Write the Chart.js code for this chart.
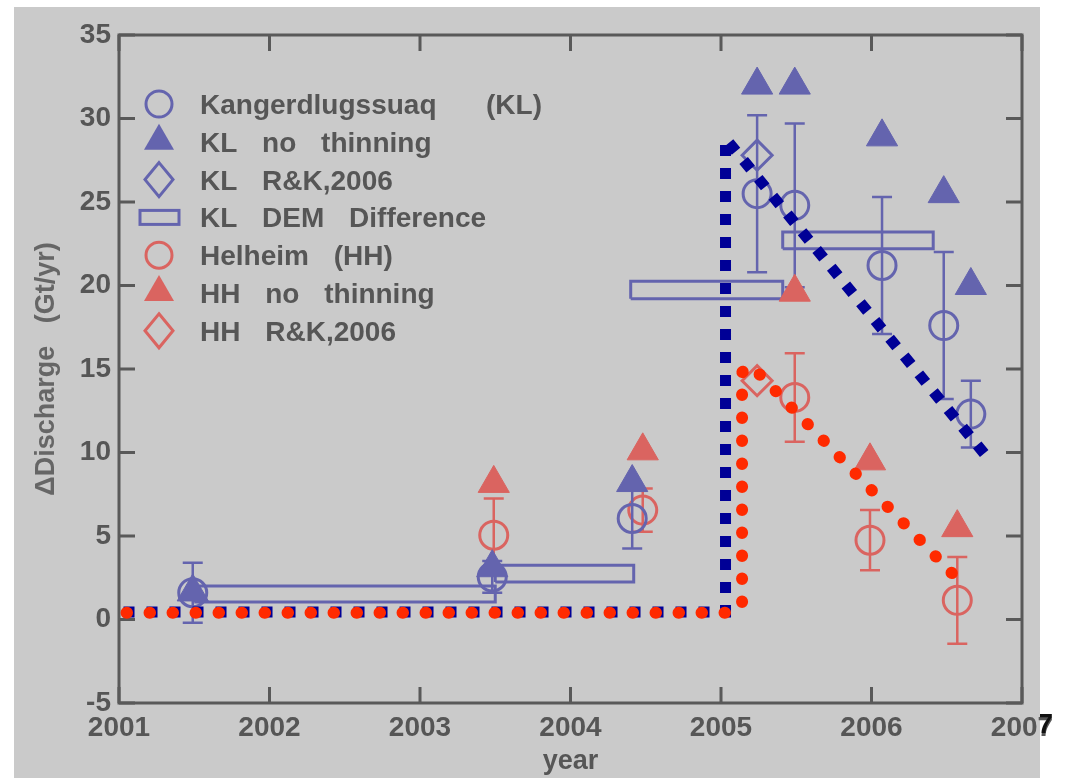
<!DOCTYPE html>
<html>
<head>
<meta charset="utf-8">
<script src="https://cdn.jsdelivr.net/npm/chart.js@4.4.1/dist/chart.umd.min.js"></script>
<style>
  html, body { margin: 0; padding: 0; background: #fff; overflow: hidden; }
  canvas { display: block; }
</style>
</head>
<body>
<canvas id="myChart" width="1076" height="778"></canvas>
<script>
// Kangerdlugssuaq (KL)
const klYear = [2001.49, 2003.48, 2004.41, 2005.24, 2005.49, 2006.07, 2006.48, 2006.66];
const klDischarge = [1.6, 2.55, 6.05, 25.5, 24.8, 21.2, 17.6, 12.3];
const klError = [1.8, 0.95, 1.8, 4.7, 4.9, 4.1, 4.4, 2.0];
const klNoThinning = [1.65, 3.1, 8.2, 32.0, 32.0, 28.9, 25.5, 20.0];
const klRKYear = [2005.24];
const klRK = [27.8];

// KL DEM difference boxes
const demStart = [2001.5, 2003.5, 2004.4, 2005.41];
const demEnd = [2003.5, 2004.42, 2005.41, 2006.41];
const demLow = [1.05, 2.25, 19.2, 22.2];
const demHigh = [2.0, 3.25, 20.25, 23.2];

// Helheim (HH)
const hhYear = [2003.49, 2004.48, 2005.49, 2005.99, 2006.57];
const hhDischarge = [5.05, 6.55, 13.3, 4.75, 1.15];
const hhError = [2.2, 1.3, 2.65, 1.8, 2.6];
const hhNoThinning = [8.15, 10.1, 19.6, 9.5, 5.5];
const hhRKYear = [2005.24];
const hhRK = [14.3];

// hand drawn trend overlays
const klTrendX = [2001.03, 2005.03, 2005.03, 2006.78];
const klTrendY = [0.45, 0.45, 28.8, 9.6];
const hhTrendX = [2001.05, 2005.07, 2005.14, 2005.14, 2005.2, 2006.58];
const hhTrendY = [0.4, 0.4, 0.9, 14.8, 15.2, 2.35];

const legendLabels = [
    'Kangerdlugssuaq  (KL)', 'KL no thinning', 'KL R&K,2006', 'KL DEM Difference',
    'Helheim (HH)', 'HH no thinning', 'HH R&K,2006'
];

const blue = '#6464ae';
const red = '#da6460';
const axisColor = '#595959';
const textColor = '#565656';
const font = "'Liberation Sans', Arial, sans-serif";

function pts(xs, ys) {
    return xs.map((x, i) => ({ x: x, y: ys[i] }));
}

function box(i) {
    return [
        { x: demStart[i], y: demLow[i] }, { x: demEnd[i], y: demLow[i] },
        { x: demEnd[i], y: demHigh[i] }, { x: demStart[i], y: demHigh[i] },
        { x: demStart[i], y: demLow[i] }
    ];
}

const datasets = [
    { label: 'KL trend', data: pts(klTrendX, klTrendY), showLine: true, pointRadius: 0,
      borderColor: '#000096', borderWidth: 11, borderDash: [11, 12], borderCapStyle: 'butt',
      borderJoinStyle: 'miter', order: 1 },
    { label: 'HH trend', data: pts(hhTrendX, hhTrendY), showLine: true, pointRadius: 0,
      borderColor: '#ff2a00', borderWidth: 12, borderDash: [0.5, 22.5], borderCapStyle: 'round',
      order: 0 },
    { label: 'KL no thinning', data: pts(klYear, klNoThinning), pointStyle: 'triangle', pointRadius: 18,
      backgroundColor: blue, borderColor: blue, borderWidth: 1, order: 3 },
    { label: 'HH no thinning', data: pts(hhYear, hhNoThinning), pointStyle: 'triangle', pointRadius: 18,
      backgroundColor: red, borderColor: red, borderWidth: 1, order: 3 },
    { label: 'Kangerdlugssuaq (KL)', data: pts(klYear, klDischarge), errorBars: klError, pointStyle: 'circle',
      pointRadius: 14, backgroundColor: 'transparent', borderColor: blue, borderWidth: 3, order: 4 },
    { label: 'Helheim (HH)', data: pts(hhYear, hhDischarge), errorBars: hhError, pointStyle: 'circle',
      pointRadius: 14, backgroundColor: 'transparent', borderColor: red, borderWidth: 3, order: 4 },
    { label: 'KL R&K,2006', data: pts(klRKYear, klRK), pointStyle: 'rectRot', pointRadius: 15,
      backgroundColor: 'transparent', borderColor: blue, borderWidth: 3, order: 2 },
    { label: 'HH R&K,2006', data: pts(hhRKYear, hhRK), pointStyle: 'rectRot', pointRadius: 15,
      backgroundColor: 'transparent', borderColor: red, borderWidth: 3, order: 2 }
];
demStart.forEach((s, i) => {
    datasets.push({ label: 'KL DEM Difference', data: box(i), showLine: true, pointRadius: 0,
        borderColor: blue, borderWidth: 3, borderJoinStyle: 'miter', order: 6 });
});

// grey figure background
const background = {
    id: 'background',
    beforeDraw(chart) {
        const ctx = chart.ctx;
        ctx.save();
        ctx.fillStyle = '#cacaca';
        ctx.fillRect(14, 7, 1026, 771);
        ctx.restore();
    }
};

// box round the plot with inward ticks on all four sides
const frame = {
    id: 'frame',
    beforeDatasetsDraw(chart) {
        const { ctx, chartArea: a, scales: { x, y } } = chart;
        ctx.save();
        ctx.strokeStyle = axisColor;
        ctx.lineWidth = 3;
        ctx.strokeRect(a.left, a.top, a.right - a.left, a.bottom - a.top);
        ctx.beginPath();
        x.ticks.forEach(t => {
            const px = x.getPixelForValue(t.value);
            ctx.moveTo(px, a.bottom); ctx.lineTo(px, a.bottom - 16);
            ctx.moveTo(px, a.top); ctx.lineTo(px, a.top + 16);
        });
        y.ticks.forEach(t => {
            const py = y.getPixelForValue(t.value);
            ctx.moveTo(a.left, py); ctx.lineTo(a.left + 16, py);
            ctx.moveTo(a.right, py); ctx.lineTo(a.right - 16, py);
        });
        ctx.stroke();
        ctx.restore();
    }
};

const errorBars = {
    id: 'errorBars',
    afterDatasetDraw(chart, args) {
        const ds = chart.data.datasets[args.index];
        if (!ds.errorBars) return;
        const { ctx, scales: { y } } = chart;
        ctx.save();
        ctx.strokeStyle = ds.borderColor;
        ctx.lineWidth = 2.5;
        ctx.beginPath();
        args.meta.data.forEach((p, i) => {
            const v = ds.data[i].y, e = ds.errorBars[i];
            const top = y.getPixelForValue(v + e), bot = y.getPixelForValue(v - e);
            ctx.moveTo(p.x, top); ctx.lineTo(p.x, bot);
            ctx.moveTo(p.x - 10, top); ctx.lineTo(p.x + 10, top);
            ctx.moveTo(p.x - 10, bot); ctx.lineTo(p.x + 10, bot);
        });
        ctx.stroke();
        ctx.restore();
    }
};

function marker(ctx, kind, color, cx, cy) {
    ctx.save();
    ctx.strokeStyle = color;
    ctx.fillStyle = color;
    ctx.lineWidth = 3;
    ctx.beginPath();
    if (kind === 'circle') {
        ctx.arc(cx, cy, 13, 0, Math.PI * 2);
        ctx.stroke();
    } else if (kind === 'triangle') {
        ctx.moveTo(cx, cy - 14); ctx.lineTo(cx + 15, cy + 12); ctx.lineTo(cx - 15, cy + 12);
        ctx.closePath(); ctx.fill();
    } else if (kind === 'diamond') {
        ctx.moveTo(cx, cy - 17); ctx.lineTo(cx + 14, cy); ctx.lineTo(cx, cy + 17); ctx.lineTo(cx - 14, cy);
        ctx.closePath(); ctx.stroke();
    } else {
        ctx.strokeRect(cx - 19, cy - 7, 39, 14);
    }
    ctx.restore();
}

const legendBox = {
    id: 'legendBox',
    afterDraw(chart) {
        const ctx = chart.ctx;
        const kinds = ['circle', 'triangle', 'diamond', 'rect', 'circle', 'triangle', 'diamond'];
        const colors = [blue, blue, blue, blue, red, red, red];
        ctx.save();
        ctx.font = 'bold 28px ' + font;
        ctx.fillStyle = textColor;
        ctx.textBaseline = 'alphabetic';
        ctx.textAlign = 'left';
        if ('wordSpacing' in ctx) ctx.wordSpacing = '17px';
        legendLabels.forEach((lab, i) => {
            const cy = 104 + i * 37.8;
            marker(ctx, kinds[i], colors[i], 159, kinds[i] === 'triangle' ? cy - 4 : cy);
            ctx.fillText(lab, 200, cy + 10);
        });
        ctx.restore();

        // the last digit of 2007 sits outside the grey and prints black
        const x = chart.scales.x;
        ctx.save();
        ctx.beginPath();
        ctx.rect(1040, 700, 40, 78);
        ctx.clip();
        ctx.font = 'bold 28px ' + font;
        ctx.fillStyle = '#111';
        ctx.textAlign = 'center';
        ctx.textBaseline = 'top';
        ctx.fillText('2007', x.getPixelForValue(2007), x.top + 8);
        ctx.restore();
    }
};

const myChart = new Chart(document.getElementById('myChart').getContext('2d'), {
    type: 'scatter',
    data: { datasets: datasets },
    options: {
        responsive: false,
        animation: false,
        layout: { padding: { top: 35, right: 54, left: 0, bottom: 0 } },
        plugins: { legend: { display: false }, tooltip: { enabled: false } },
        scales: {
            x: {
                type: 'linear', min: 2001, max: 2007,
                afterFit: s => { s.height = 75; },
                grid: { display: false, drawTicks: false },
                border: { display: false },
                ticks: {
                    stepSize: 1, autoSkip: false, maxRotation: 0, padding: 8,
                    color: textColor, font: { family: font, size: 28, weight: 'bold' },
                    callback: v => String(v)
                },
                title: {
                    display: true, text: 'year', color: textColor, padding: 0,
                    font: { family: font, size: 27, weight: 'bold' }
                }
            },
            y: {
                min: -5, max: 35,
                afterFit: s => { s.width = 119; },
                grid: { display: false, drawTicks: false },
                border: { display: false },
                ticks: {
                    stepSize: 5, autoSkip: false, padding: 8,
                    color: textColor, font: { family: font, size: 28, weight: 'bold' }
                },
                title: {
                    display: true, text: 'ΔDischarge   (Gt/yr)', color: '#666',
                    padding: { top: 30, bottom: 0 },
                    font: { family: font, size: 27, weight: 'bold' }
                }
            }
        }
    },
    plugins: [background, frame, errorBars, legendBox]
});
</script>
</body>
</html>
